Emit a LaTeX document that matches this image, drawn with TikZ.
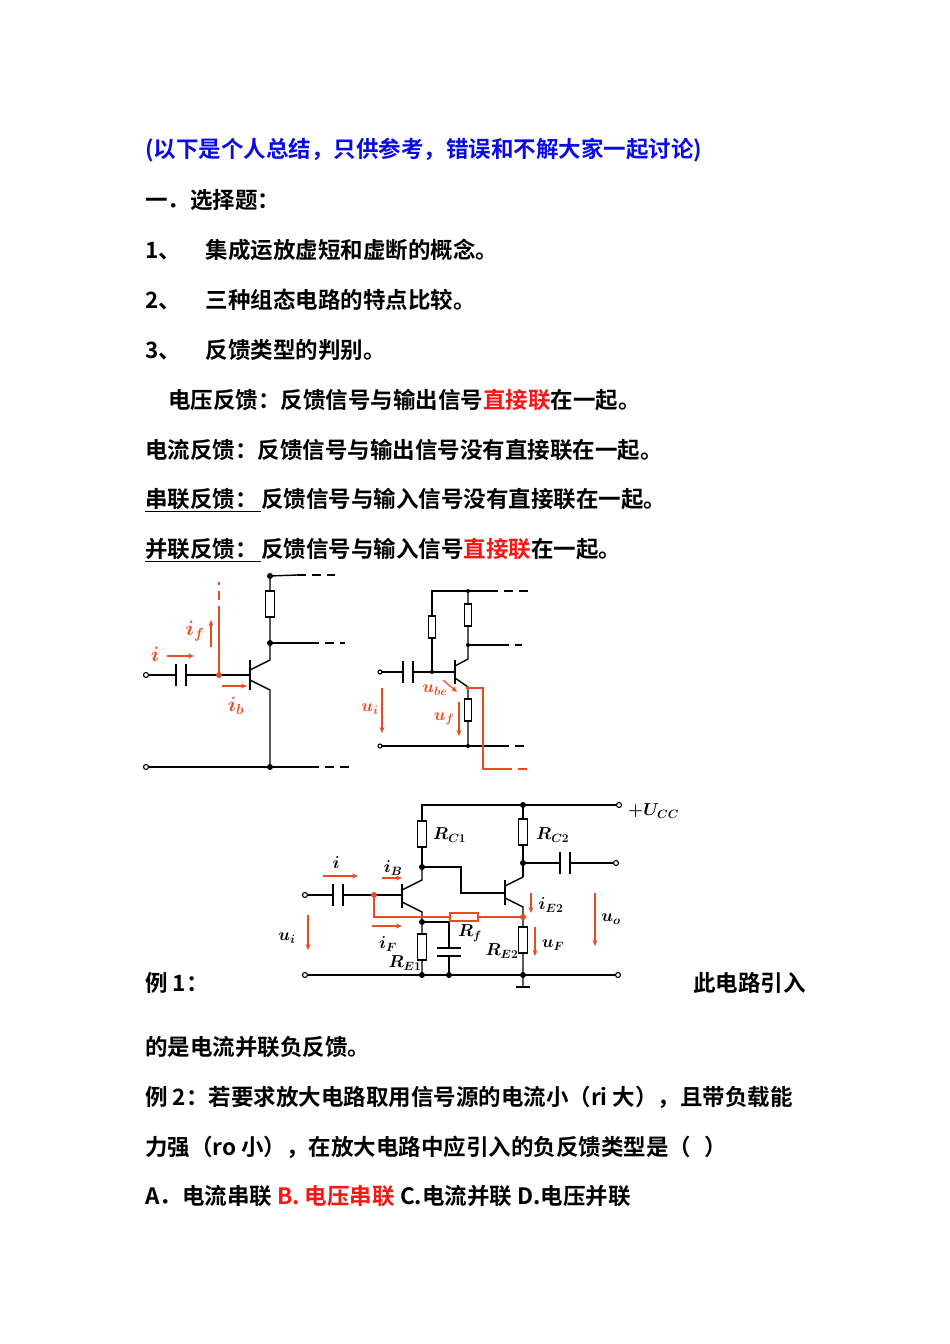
\documentclass[tikz,border=0pt]{standalone}
\usepackage{fontspec}
\newfontfamily\cjk{Noto Sans CJK SC Bold}
\usetikzlibrary{arrows.meta}
\definecolor{tblue}{RGB}{10,10,230}
\definecolor{tred}{RGB}{250,20,20}
\definecolor{cred}{RGB}{235,75,35}
\begin{document}
\begin{tikzpicture}[x=1pt,y=-1pt,
  txt/.style={anchor=west,inner sep=0pt,font=\cjk\fontsize{22.5}{26}\selectfont},
  wire/.style={line width=1.4pt,black},
  rw/.style={line width=1.4pt,cred},
  dsh/.style={dash pattern=on 9pt off 6pt},
  res/.style={draw,line width=1.2pt,fill=white,minimum width=9pt,minimum height=26pt,inner sep=0pt},
  resh/.style={draw,line width=1.2pt,cred,fill=white,minimum width=28pt,minimum height=8pt,inner sep=0pt},
  term/.style={circle,draw,line width=1.1pt,fill=white,inner sep=0pt,minimum size=5pt},
  dot/.style={circle,fill,inner sep=0pt,minimum size=6pt},
  rdot/.style={circle,fill=cred,inner sep=0pt,minimum size=6pt},
  arr/.style={cred,line width=1.6pt,-{Stealth[length=6pt,width=5pt]}},
  lab/.style={cred,font=\fontsize{22}{24}\selectfont\boldmath,inner sep=0pt},
  blab/.style={black,font=\fontsize{17}{18}\selectfont\boldmath,inner sep=0pt}]
\useasboundingbox[fill=white] (0,0) rectangle (950,1344);
% text
\node[txt,tblue] (t0) at (145,150) {(以下是个人总结，只供参考，错误和不解大家一起讨论)};
\node[txt] (t1) at (145,200) {一．选择题：};
\node[txt] (t2) at (145,250) {1、\hspace{1.1em}集成运放虚短和虚断的概念。};
\node[txt] (t3) at (145,300) {2、\hspace{1.1em}三种组态电路的特点比较。};
\node[txt] (t4) at (145,350) {3、\hspace{1.1em}反馈类型的判别。};
\node[txt] (t5) at (168,400) {电压反馈：反馈信号与输出信号\textcolor{tred}{直接联}在一起。};
\node[txt] (t6) at (145,450) {电流反馈：反馈信号与输出信号没有直接联在一起。};
\node[txt] (t7) at (145,500) {\underline{串联反馈：\,}反馈信号与输入信号没有直接联在一起。};
\node[txt] (t8) at (145,550) {\underline{并联反馈：\,}反馈信号与输入信号\textcolor{tred}{直接联}在一起。};
\node[txt] (t9) at (145,983) {例 1：};
\node[txt,anchor=east] (t10) at (806,983) {此电路引入};
\node[txt] (t11) at (145,1047) {的是电流并联负反馈。};
\node[txt] (t12) at (145,1097) {例 2：若要求放大电路取用信号源的电流小（ri 大），且带负载能};
\node[txt] (t13) at (145,1147) {力强（ro 小），在放大电路中应引入的负反馈类型是（\hspace{0.6em}）};
\node[txt] (t14) at (145,1196) {A．电流串联 \textcolor{tred}{B. 电压串联} C.电流并联 D.电压并联};

% ===== circuit 1 =====
\draw[wire] (146,675) -- (176,675) (186,675) -- (250,675);
\draw[wire] (176,664) -- (176,686) (186,664) -- (186,686);
\draw[wire] (250,660) -- (250,690);
\draw[wire] (250,670) -- (270,660) -- (270,576) -- (297,575);
\draw[wire,dsh] (297,575) -- (335,575);
\draw[wire] (250,680) -- (270,690) -- (270,767);
\draw[wire] (146,767) -- (310,767);
\draw[wire,dsh] (310,767) -- (352,767);
\draw[wire] (270,643) -- (310,643);
\draw[wire,dsh] (310,643) -- (345,643);
\node[res] (r1) at (270,604) {};
\node[dot] at (270,576) {}; \node[dot] at (270,643) {}; \node[dot] at (270,767) {};
\node[term] at (146,675) {}; \node[term] at (146,767) {};
\draw[rw] (219,675) -- (219,615);
\draw[rw,dsh] (219,615) -- (219,582);
\node[rdot] at (219,675) {};
\draw[arr] (211,647) -- (211,620);
\node[lab] at (195,631) {$i_f$};
\draw[arr] (167,656) -- (194,656);
\node[lab] at (155,654) {$i$};
\draw[arr] (222,686) -- (247,686);
\node[lab] at (236,706) {$i_b$};

% ===== circuit 2 =====
\draw[wire] (380,672) -- (403,672) (413,672) -- (455,672);
\draw[wire] (403,661) -- (403,683) (413,661) -- (413,683);
\draw[wire] (455,660) -- (455,684);
\draw[wire] (432,672) -- (432,591) -- (489,591);
\draw[wire,dsh] (489,591) -- (530,591);
\draw[wire] (455,666) -- (468,659) -- (468,591);
\draw[wire] (468,645) -- (500,645);
\draw[wire,dsh] (500,645) -- (522,645);
\draw[wire] (455,678) -- (468,687) -- (468,746);
\draw[wire] (380,746) -- (500,746);
\draw[wire,dsh] (500,746) -- (528,746);
\node[res,minimum height=22pt,minimum width=7pt] at (432,627) {};
\node[res,minimum height=22pt,minimum width=7pt] at (468,615) {};
\node[res,minimum height=22pt,minimum width=7pt] at (468,710) {};
\node[dot,minimum size=4pt] at (432,672) {}; \node[dot,minimum size=4pt] at (468,591) {};
\node[dot,minimum size=4pt] at (468,645) {}; \node[dot,minimum size=4pt] at (468,746) {};
\node[term,minimum size=4pt] at (380,672) {}; \node[term,minimum size=4pt] at (380,746) {};
\draw[rw] (468,688) -- (483,688) -- (483,769) -- (503,769);
\draw[rw,dsh] (503,769) -- (532,769);
\node[rdot,minimum size=4pt] at (468,688) {};
\draw[arr] (382,688) -- (382,733);
\node[lab,font=\fontsize{17}{18}\selectfont\boldmath] at (370,709) {$u_i$};
\draw[arr,line width=1.2pt] (443,680) -- (457,692);
\node[lab,font=\fontsize{17}{18}\selectfont\boldmath] at (435,690) {$u_{be}$};
\draw[arr,line width=1.2pt] (459,702) -- (459,736);
\node[lab,font=\fontsize{17}{18}\selectfont\boldmath] at (444,719) {$u_f$};

% ===== circuit 3 =====
\draw[wire] (422,867) -- (422,805) -- (617,805);
\node[term] at (619,805) {};
\node[dot] at (523,805) {};
\node[blab,anchor=west] at (628,811) {$+U_{CC}$};
\node[res] at (422,834) {};
\node[blab,anchor=west] at (433,835) {$R_{C1}$};
\draw[wire] (523,805) -- (523,877);
\node[res] at (523,832) {};
\node[blab,anchor=west] at (536,835) {$R_{C2}$};
\draw[wire] (523,863) -- (560,863) (570,863) -- (616,863);
\draw[wire] (560,852) -- (560,874) (570,852) -- (570,874);
\node[term] at (616,863) {};
\node[dot] at (523,863) {};
% T1
\draw[wire] (305,895) -- (333,895) (343,895) -- (402,895);
\draw[wire] (333,884) -- (333,906) (343,884) -- (343,906);
\node[term] at (305,895) {};
\draw[wire] (402,884) -- (402,908);
\draw[wire] (402,890) -- (422,880) -- (422,867);
\draw[wire] (402,902) -- (422,912) -- (422,975);
\node[res] at (422,947) {};
\node[blab] at (405,963) {$R_{E1}$};
\draw[wire] (422,922) -- (449,922) -- (449,948);
\draw[wire] (437,948) -- (461,948) (437,956) -- (461,956);
\draw[wire] (449,956) -- (449,975);
\node[dot] at (422,922) {}; \node[dot] at (449,975) {}; \node[dot] at (422,975) {};
\node[dot] at (422,867) {};
% T2
\draw[wire] (422,867) -- (461,867) -- (461,893) -- (505,893);
\draw[wire] (505,880) -- (505,905);
\draw[wire] (505,886) -- (523,877);
\draw[wire] (505,898) -- (523,907) -- (523,975) -- (523,987);
\draw[wire] (516,987) -- (530,987);
\node[res] at (523,940) {};
\node[blab] at (502,951) {$R_{E2}$};
\draw[wire] (305,975) -- (618,975);
\node[term] at (305,975) {}; \node[term] at (618,975) {};
\node[dot] at (523,975) {};
% feedback
\draw[rw] (374,895) -- (374,917) -- (523,917);
\node[resh] at (464,917) {};
\node[rdot] at (374,895) {}; \node[rdot] at (523,917) {};
\node[blab] at (470,933) {$R_f$};
% arrows
\draw[arr] (323,876) -- (358,876); \node[blab] at (336,862) {$i$};
\draw[arr] (382,878) -- (402,878); \node[blab] at (393,868) {$i_B$};
\draw[arr] (372,926) -- (402,926); \node[blab] at (388,944) {$i_F$};
\draw[arr] (308,915) -- (308,950); \node[blab] at (287,938) {$u_i$};
\draw[arr,line width=1.3pt] (531,893) -- (531,913); \node[blab] at (551,905) {$i_{E2}$};
\draw[arr,line width=1.3pt] (535,927) -- (535,956); \node[blab] at (553,945) {$u_F$};
\draw[arr] (595,893) -- (595,946); \node[blab] at (611,919) {$u_o$};
\end{tikzpicture}
\end{document}
